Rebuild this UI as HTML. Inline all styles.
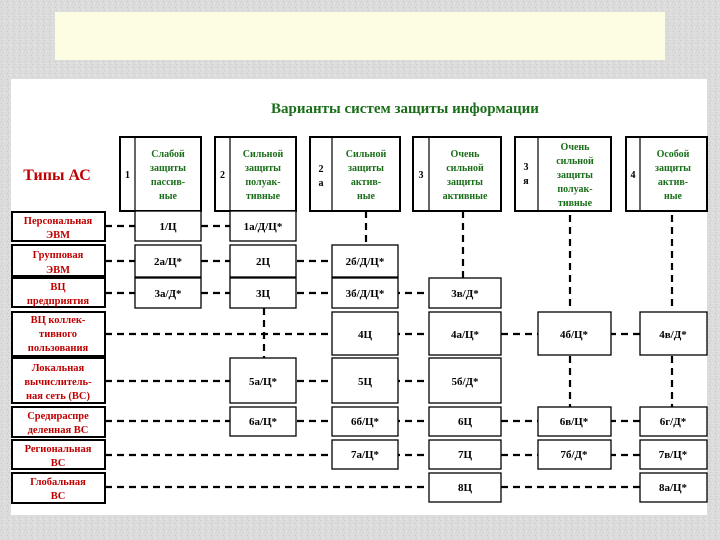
<!DOCTYPE html>
<html><head><meta charset="utf-8"><style>
html,body{margin:0;padding:0;width:720px;height:540px;overflow:hidden;background:#d9d9d9;}
svg{display:block}
</style></head><body>
<svg width="720" height="540" viewBox="0 0 720 540" xmlns="http://www.w3.org/2000/svg">
<defs>
<pattern id="tex" width="6" height="6" patternUnits="userSpaceOnUse">
<rect width="6" height="6" fill="#dcdcdc"/>
<rect x="1" y="1" width="1" height="1" fill="#c4c4c4"/>
<rect x="4" y="3" width="1" height="1" fill="#ececec"/>
<rect x="2" y="4" width="1" height="1" fill="#cacaca"/>
</pattern>
</defs>
<rect width="720" height="540" fill="url(#tex)"/>
<rect x="55" y="12" width="610" height="48" fill="#fdfde3"/>
<rect x="11" y="79" width="696" height="436" fill="#ffffff"/>

<text x="405" y="113" text-anchor="middle" font-family="Liberation Serif, serif" font-weight="bold" font-size="15" fill="#1a6e1a">Варианты систем защиты информации</text>
<text x="57" y="180" text-anchor="middle" font-family="Liberation Serif, serif" font-weight="bold" font-size="16" fill="#c00000">Типы АС</text>

<g fill="none" stroke="#000" stroke-width="2.2" stroke-dasharray="7,5">
<!-- horizontal row connectors -->
<line x1="105" y1="226" x2="230" y2="226"/>
<line x1="105" y1="261" x2="332" y2="261"/>
<line x1="105" y1="293" x2="429" y2="293"/>
<line x1="105" y1="334" x2="640" y2="334"/>
<line x1="105" y1="381" x2="429" y2="381"/>
<line x1="105" y1="421" x2="640" y2="421"/>
<line x1="105" y1="455" x2="640" y2="455"/>
<line x1="105" y1="487" x2="640" y2="487"/>
<!-- verticals -->
<line x1="264" y1="308" x2="264" y2="358"/>
<line x1="366" y1="211" x2="366" y2="245"/>
<line x1="463" y1="211" x2="463" y2="278"/>
<line x1="570" y1="215" x2="570" y2="311"/>
<line x1="570" y1="356" x2="570" y2="407"/>
<line x1="672" y1="215" x2="672" y2="311"/>
<line x1="672" y1="356" x2="672" y2="407"/>
</g>

<!-- header boxes -->
<g fill="#fff" stroke="#000" stroke-width="2">
<rect x="120" y="137" width="81" height="74"/>
<rect x="215" y="137" width="81" height="74"/>
<rect x="310" y="137" width="90" height="74"/>
<rect x="413" y="137" width="88" height="74"/>
<rect x="515" y="137" width="96" height="74"/>
<rect x="626" y="137" width="81" height="74"/>
</g>
<g stroke="#000" stroke-width="1.2">
<line x1="135" y1="137" x2="135" y2="211"/>
<line x1="230" y1="137" x2="230" y2="211"/>
<line x1="332" y1="137" x2="332" y2="211"/>
<line x1="429" y1="137" x2="429" y2="211"/>
<line x1="538" y1="137" x2="538" y2="211"/>
<line x1="640" y1="137" x2="640" y2="211"/>
</g>
<g font-family="Liberation Serif, serif" font-weight="bold" font-size="10" fill="#000" text-anchor="middle">
<text x="127.5" y="178">1</text>
<text x="222.5" y="178">2</text>
<text x="321" y="172">2</text><text x="321" y="186">а</text>
<text x="421" y="178">3</text>
<text x="526" y="170">3</text><text x="526" y="184">я</text>
<text x="633" y="178">4</text>
</g>
<g font-family="Liberation Serif, serif" font-weight="bold" font-size="10" fill="#1a6e1a" text-anchor="middle">
<text x="168" y="157">Слабой</text><text x="168" y="171">защиты</text><text x="168" y="185">пассив-</text><text x="168" y="199">ные</text>
<text x="263" y="157">Сильной</text><text x="263" y="171">защиты</text><text x="263" y="185">полуак-</text><text x="263" y="199">тивные</text>
<text x="366" y="157">Сильной</text><text x="366" y="171">защиты</text><text x="366" y="185">актив-</text><text x="366" y="199">ные</text>
<text x="465" y="157">Очень</text><text x="465" y="171">сильной</text><text x="465" y="185">защиты</text><text x="465" y="199">активные</text>
<text x="575" y="150">Очень</text><text x="575" y="164">сильной</text><text x="575" y="178">защиты</text><text x="575" y="192">полуак-</text><text x="575" y="206">тивные</text>
<text x="673" y="157">Особой</text><text x="673" y="171">защиты</text><text x="673" y="185">актив-</text><text x="673" y="199">ные</text>
</g>

<!-- row labels -->
<g fill="#fff" stroke="#000" stroke-width="2">
<rect x="12" y="212" width="93" height="29"/>
<rect x="12" y="245" width="93" height="31"/>
<rect x="12" y="278" width="93" height="29"/>
<rect x="12" y="312" width="93" height="44"/>
<rect x="12" y="358" width="93" height="45"/>
<rect x="12" y="407" width="93" height="30"/>
<rect x="12" y="440" width="93" height="29"/>
<rect x="12" y="473" width="93" height="30"/>
</g>
<g font-family="Liberation Serif, serif" font-weight="bold" font-size="10.5" fill="#c00000" text-anchor="middle">
<text x="58" y="224">Персональная</text><text x="58" y="238">ЭВМ</text>
<text x="58" y="258">Групповая</text><text x="58" y="273">ЭВМ</text>
<text x="58" y="290">ВЦ</text><text x="58" y="304">предприятия</text>
<text x="58" y="323">ВЦ коллек-</text><text x="58" y="337">тивного</text><text x="58" y="351">пользования</text>
<text x="58" y="371">Локальная</text><text x="58" y="385">вычислитель-</text><text x="58" y="399">ная сеть (ВС)</text>
<text x="58" y="419">Средираспре</text><text x="58" y="433">деленная ВС</text>
<text x="58" y="452">Региональная</text><text x="58" y="466">ВС</text>
<text x="58" y="485">Глобальная</text><text x="58" y="499">ВС</text>
</g>

<!-- cells -->
<g fill="#fff" stroke="#000" stroke-width="1.3">
<rect x="135" y="211" width="66" height="30"/><rect x="230" y="211" width="66" height="30"/>
<rect x="135" y="245" width="66" height="32"/><rect x="230" y="245" width="66" height="32"/><rect x="332" y="245" width="66" height="32"/>
<rect x="135" y="278" width="66" height="30"/><rect x="230" y="278" width="66" height="30"/><rect x="332" y="278" width="66" height="30"/><rect x="429" y="278" width="72" height="30"/>
<rect x="332" y="312" width="66" height="43"/><rect x="429" y="312" width="72" height="43"/><rect x="538" y="312" width="73" height="43"/><rect x="640" y="312" width="67" height="43"/>
<rect x="230" y="358" width="66" height="45"/><rect x="332" y="358" width="66" height="45"/><rect x="429" y="358" width="72" height="45"/>
<rect x="230" y="407" width="66" height="29"/><rect x="332" y="407" width="66" height="29"/><rect x="429" y="407" width="72" height="29"/><rect x="538" y="407" width="73" height="29"/><rect x="640" y="407" width="67" height="29"/>
<rect x="332" y="440" width="66" height="29"/><rect x="429" y="440" width="72" height="29"/><rect x="538" y="440" width="73" height="29"/><rect x="640" y="440" width="67" height="29"/>
<rect x="429" y="473" width="72" height="29"/><rect x="640" y="473" width="67" height="29"/>
</g>
<g font-family="Liberation Serif, serif" font-weight="bold" font-size="11" fill="#000" text-anchor="middle">
<text x="168" y="230">1/Ц</text><text x="263" y="230">1а/Д/Ц*</text>
<text x="168" y="265">2а/Ц*</text><text x="263" y="265">2Ц</text><text x="365" y="265">2б/Д/Ц*</text>
<text x="168" y="297">3а/Д*</text><text x="263" y="297">3Ц</text><text x="365" y="297">3б/Д/Ц*</text><text x="465" y="297">3в/Д*</text>
<text x="365" y="338">4Ц</text><text x="465" y="338">4а/Ц*</text><text x="574" y="338">4б/Ц*</text><text x="673" y="338">4в/Д*</text>
<text x="263" y="385">5а/Ц*</text><text x="365" y="385">5Ц</text><text x="465" y="385">5б/Д*</text>
<text x="263" y="425">6а/Ц*</text><text x="365" y="425">6б/Ц*</text><text x="465" y="425">6Ц</text><text x="574" y="425">6в/Ц*</text><text x="673" y="425">6г/Д*</text>
<text x="365" y="458">7а/Ц*</text><text x="465" y="458">7Ц</text><text x="574" y="458">7б/Д*</text><text x="673" y="458">7в/Ц*</text>
<text x="465" y="491">8Ц</text><text x="673" y="491">8а/Ц*</text>
</g>
</svg>
</body></html>
